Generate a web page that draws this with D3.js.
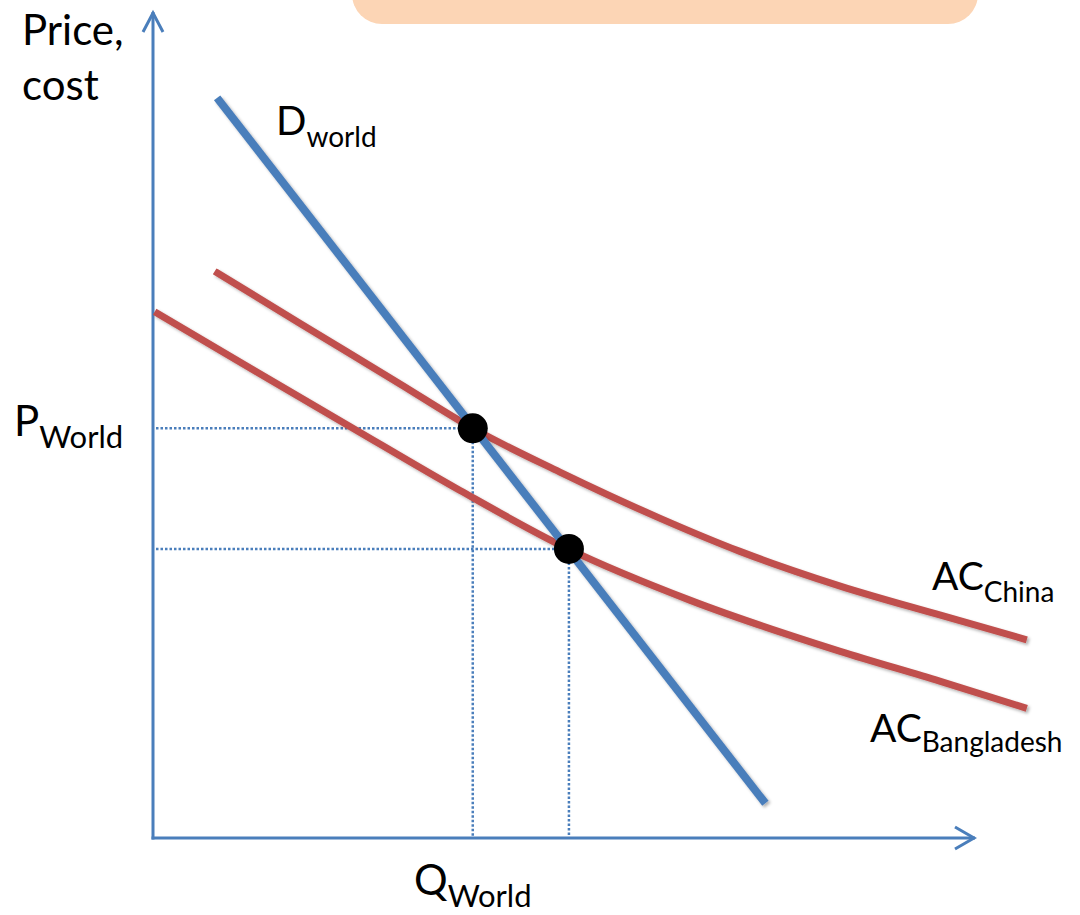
<!DOCTYPE html>
<html>
<head>
<meta charset="utf-8">
<script src="https://cdn.jsdelivr.net/npm/d3@7"></script>
<style>
  html, body { margin: 0; padding: 0; background: #fff; }
  svg { display: block; }
  text { font-family: Lato, "Open Sans", sans-serif; fill: #000; }
</style>
</head>
<body>
<svg id="chart" width="1080" height="915"></svg>
<script>
// ---- data (quantity / price units, 0..100 on the axes) ----
const demandQ = [7.8, 74.5];
const demandP = [89.6, 4.2];

const acChinaQ = [7.5, 17.9, 30.0, 38.9, 49.5, 61.7, 71.4, 83.6, 95.7, 106.3];
const acChinaP = [68.6, 62.3, 55.0, 49.6, 44.3, 38.7, 34.7, 30.5, 27.0, 24.0];

const acBangladeshQ = [0.2, 11.8, 24.0, 37.3, 50.5, 65.3, 83.6, 95.7, 106.3];
const acBangladeshP = [63.7, 56.9, 49.8, 42.1, 35.0, 28.8, 22.6, 19.0, 15.7];

const equilibriumQ = [38.9, 50.6];
const equilibriumP = [49.6, 35.0];

const axisLabels = ["Price,", "cost"];

// ---- layout ----
const svg = d3.select("#chart");
const x = d3.scaleLinear().domain([0, 100]).range([153, 975]);
const y = d3.scaleLinear().domain([0, 100]).range([838, 12]);

const blue = "#4a7ebb";
const red = "#c0504d";

const defs = svg.append("defs");
const f = defs.append("filter").attr("id", "shadow")
  .attr("x", "-10%").attr("y", "-10%").attr("width", "120%").attr("height", "120%");
f.append("feDropShadow").attr("dx", 2).attr("dy", 2).attr("stdDeviation", 1.5)
  .attr("flood-color", "#000").attr("flood-opacity", 0.3);

// orange box at top
svg.append("rect")
  .attr("x", 352).attr("y", -60).attr("width", 626).attr("height", 84)
  .attr("rx", 30).attr("ry", 30)
  .attr("fill", "#fcd5b5");

// axes
const axisG = svg.append("g").attr("stroke", blue).attr("fill", "none")
  .attr("stroke-width", 3);
axisG.append("line").attr("x1", x(0)).attr("y1", y(0) + 1.5).attr("x2", x(0)).attr("y2", y(100));
axisG.append("line").attr("x1", x(0) - 1.5).attr("y1", y(0)).attr("x2", x(100)).attr("y2", y(0));
// arrowheads
axisG.append("path")
  .attr("d", `M${x(0) - 10},${y(100) + 20} L${x(0)},${y(100) + 1} L${x(0) + 10},${y(100) + 20}`);
axisG.append("path")
  .attr("d", `M${x(100) - 20},${y(0) - 11} L${x(100) - 1},${y(0)} L${x(100) - 20},${y(0) + 11}`);

// dotted guide lines
const guides = svg.append("g").attr("stroke", blue).attr("stroke-width", 2.5)
  .attr("stroke-dasharray", "2.5,2").attr("fill", "none");
equilibriumQ.forEach((q, i) => {
  guides.append("line").attr("x1", x(0) + 3).attr("y1", y(equilibriumP[i]))
    .attr("x2", x(q)).attr("y2", y(equilibriumP[i]));
  guides.append("line").attr("x1", x(q)).attr("y1", y(equilibriumP[i]))
    .attr("x2", x(q)).attr("y2", y(0) - 2);
});

// curves
const line = d3.line().x(d => x(d[0])).y(d => y(d[1])).curve(d3.curveMonotoneX);

svg.append("path")
  .attr("d", line(d3.zip(acBangladeshQ, acBangladeshP)))
  .attr("fill", "none").attr("stroke", red).attr("stroke-width", 7)
  .attr("filter", "url(#shadow)");
svg.append("path")
  .attr("d", line(d3.zip(acChinaQ, acChinaP)))
  .attr("fill", "none").attr("stroke", red).attr("stroke-width", 7)
  .attr("filter", "url(#shadow)");
svg.append("path")
  .attr("d", d3.line().x(d => x(d[0])).y(d => y(d[1]))(d3.zip(demandQ, demandP)))
  .attr("fill", "none").attr("stroke", blue).attr("stroke-width", 8)
  .attr("filter", "url(#shadow)");

// equilibrium dots
svg.append("g").selectAll("circle")
  .data(d3.zip(equilibriumQ, equilibriumP))
  .join("circle")
  .attr("cx", d => x(d[0])).attr("cy", d => y(d[1]))
  .attr("r", 15).attr("fill", "#000");

// labels
function label(px, py, main, sub, mainSize, subSize, subDy) {
  const t = svg.append("text").attr("x", px).attr("y", py);
  t.append("tspan").attr("font-size", mainSize).text(main);
  t.append("tspan").attr("font-size", subSize).attr("dy", subDy).text(sub);
}

svg.append("text").attr("x", 22).attr("y", 45).attr("font-size", 42).text(axisLabels[0]);
svg.append("text").attr("x", 22).attr("y", 100).attr("font-size", 42).text(axisLabels[1]);

label(276, 135, "D", "world", 40, 28, 12);
label(14, 436, "P", "World", 42, 31, 12);
label(414, 895, "Q", "World", 42, 31, 12);
label(932, 590, "AC", "China", 39, 28, 12);
label(870, 742, "AC", "Bangladesh", 39, 28, 10);
</script>
</body>
</html>
